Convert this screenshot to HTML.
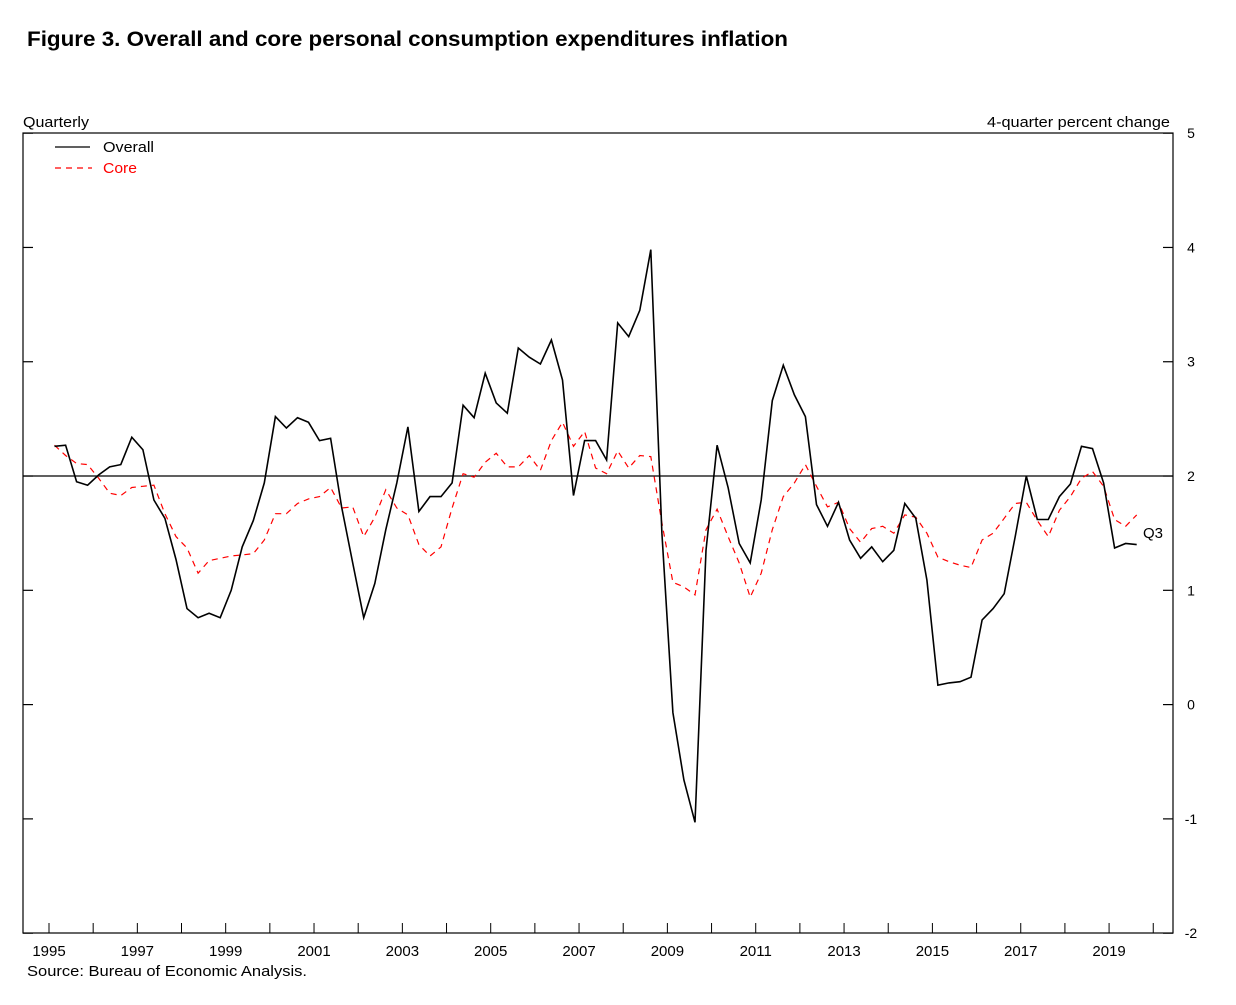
<!DOCTYPE html>
<html><head><meta charset="utf-8"><style>
body{margin:0;background:#fff;}
svg text{font-family:"Liberation Sans",sans-serif;}
</style></head><body>
<svg width="1236" height="1000" xmlns="http://www.w3.org/2000/svg">
<text x="27" y="46" font-size="21" font-weight="bold" textLength="761" lengthAdjust="spacingAndGlyphs">Figure 3. Overall and core personal consumption expenditures inflation</text>
<text x="23" y="127" font-size="15" textLength="66" lengthAdjust="spacingAndGlyphs">Quarterly</text>
<text x="987" y="127" font-size="15" textLength="183" lengthAdjust="spacingAndGlyphs">4-quarter percent change</text>
<rect x="23" y="133" width="1150" height="800" fill="none" stroke="#000" stroke-width="1.2"/>
<g id="axes"></g>
<g id="series"></g>
<line x1="55" y1="147" x2="90" y2="147" stroke="#000" stroke-width="1.3"/>
<text x="103" y="152" font-size="15" textLength="51" lengthAdjust="spacingAndGlyphs">Overall</text>
<line x1="55" y1="168" x2="92" y2="168" stroke="#f00" stroke-width="1.2" stroke-dasharray="6,5"/>
<text x="103" y="173" font-size="15" fill="#f00" textLength="34" lengthAdjust="spacingAndGlyphs">Core</text>
<text x="1143" y="538" font-size="15">Q3</text>
<text x="27" y="976" font-size="15" textLength="280" lengthAdjust="spacingAndGlyphs">Source:  Bureau of Economic Analysis.</text>
</svg>
<script>
const yTicks=[-2,-1,0,1,2,3,4,5];
const yearLabels=[1995,1997,1999,2001,2003,2005,2007,2009,2011,2013,2015,2017,2019];
const overall=[2.26,2.27,1.95,1.92,2.01,2.08,2.10,2.34,2.23,1.79,1.63,1.27,0.84,0.76,0.80,0.76,1.00,1.38,1.61,1.94,2.52,2.42,2.51,2.47,2.31,2.33,1.73,1.24,0.76,1.06,1.53,1.94,2.43,1.69,1.82,1.82,1.94,2.62,2.51,2.90,2.64,2.55,3.12,3.04,2.98,3.19,2.84,1.83,2.31,2.31,2.14,3.34,3.22,3.45,3.98,1.50,-0.07,-0.66,-1.03,1.35,2.27,1.90,1.41,1.24,1.79,2.66,2.97,2.71,2.52,1.75,1.56,1.77,1.44,1.28,1.38,1.25,1.35,1.76,1.63,1.09,0.17,0.19,0.20,0.24,0.74,0.84,0.97,1.47,2.00,1.62,1.62,1.82,1.93,2.26,2.24,1.94,1.37,1.41,1.40];
const core=[2.27,2.18,2.11,2.10,1.98,1.85,1.83,1.90,1.91,1.92,1.67,1.47,1.37,1.15,1.26,1.28,1.30,1.31,1.32,1.44,1.67,1.67,1.76,1.80,1.82,1.90,1.72,1.73,1.47,1.64,1.88,1.72,1.66,1.40,1.30,1.38,1.72,2.02,1.99,2.12,2.20,2.08,2.08,2.18,2.05,2.31,2.47,2.26,2.39,2.07,2.02,2.22,2.07,2.18,2.17,1.59,1.07,1.03,0.96,1.53,1.71,1.47,1.24,0.94,1.15,1.53,1.82,1.94,2.10,1.91,1.73,1.77,1.54,1.42,1.54,1.56,1.50,1.66,1.64,1.50,1.29,1.25,1.22,1.20,1.44,1.50,1.63,1.76,1.77,1.61,1.47,1.70,1.82,1.98,2.04,1.91,1.62,1.56,1.66];
const NS="http://www.w3.org/2000/svg";
const y=v=>704.6-(v)*114.286;
const xYear=yr=>49+(yr-1995)*44.17;
const xQ=i=>xYear(1995+0.125+i*0.25);
const axes=document.getElementById('axes'),ser=document.getElementById('series');
function mk(tag,attrs,parent,txt){const e=document.createElementNS(NS,tag);for(const k in attrs)e.setAttribute(k,attrs[k]);if(txt!==undefined)e.textContent=txt;parent.appendChild(e);return e;}
yTicks.forEach(v=>{
  const l=mk('line',{x1:1163,x2:1173,y1:y(v),y2:y(v),stroke:'#000','stroke-width':1.2},axes);
  
  
  const l2=mk('line',{x1:23,x2:33,y1:y(v),y2:y(v),stroke:'#000','stroke-width':1.2},axes);
  
  
  const t=mk('text',{x:1191,y:y(v)+5,'font-size':14,'text-anchor':'middle'},axes,String(v));
  
  
});
const zl=mk('line',{x1:23,x2:1173,y1:y(2),y2:y(2),stroke:'#000','stroke-width':1.3},axes);


for(let yr=1995;yr<=2020;yr++){
  const tk=mk('line',{x1:xYear(yr),x2:xYear(yr),y1:923,y2:933,stroke:'#000','stroke-width':1},axes);
  
  
}
yearLabels.forEach(yr=>{
  const t=mk('text',{x:xYear(yr),y:956,'font-size':15,'text-anchor':'middle'},axes,String(yr));
  
  
});
const pts=a=>a.map((v,i)=>xQ(i).toFixed(1)+','+y(v).toFixed(1)).join(' ');
const pc=mk('polyline',{points:pts(core),fill:'none',stroke:'#f00','stroke-width':1.2,'stroke-dasharray':'6,5'},ser);


const po=mk('polyline',{points:pts(overall),fill:'none',stroke:'#000','stroke-width':1.6},ser);


</script>
</body></html>
